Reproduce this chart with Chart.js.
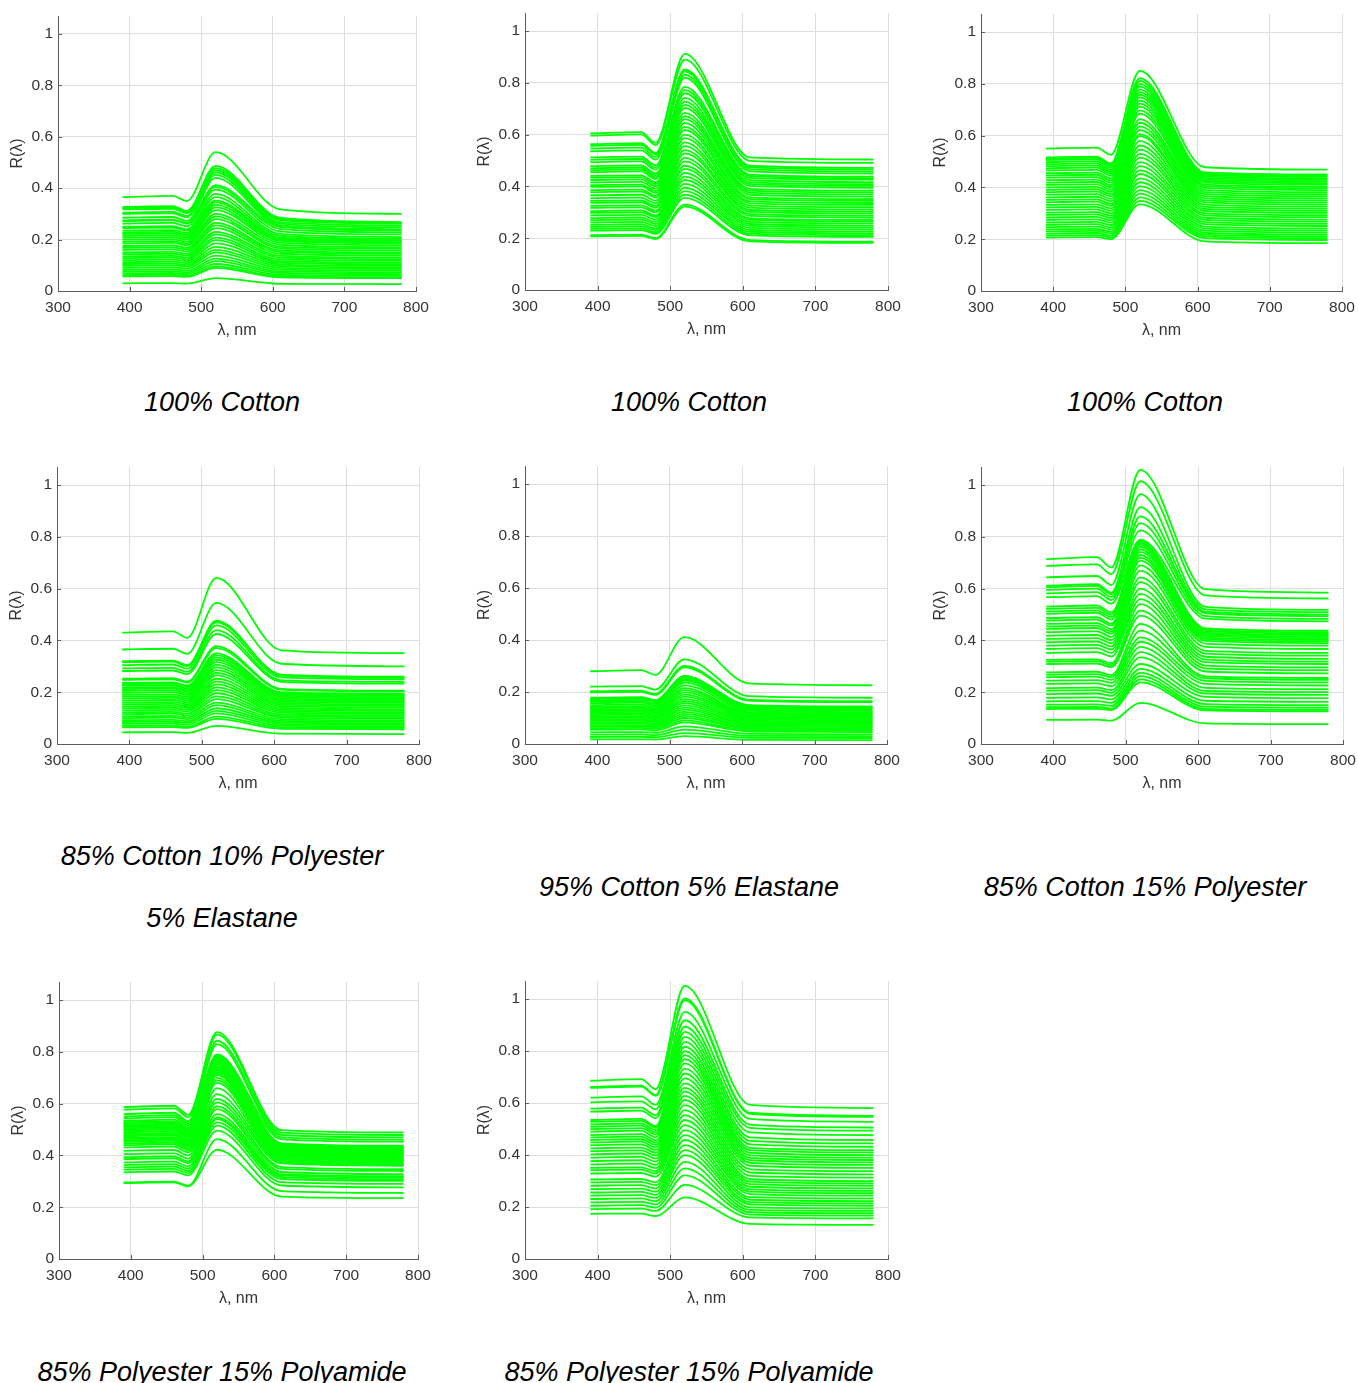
<!DOCTYPE html>
<html>
<head>
<meta charset="utf-8">
<title>Reflectance spectra of fabric samples</title>
<script src="https://cdn.jsdelivr.net/npm/chart.js@4.4.1/dist/chart.umd.min.js"></script>
<style>
  html, body { margin: 0; padding: 0; background: #fff; }
  #page { position: relative; width: 1358px; height: 1383px; overflow: hidden; }
  .panel { position: absolute; }
  .caption {
    position: absolute;
    font: italic 27px "Liberation Sans", Arial, sans-serif;
    line-height: 1;
    color: #000;
    white-space: nowrap;
    transform: translate(-50%, -50%);
  }
</style>
</head>
<body>
<div id="page"></div>
<script>
const wavelengths = [390, 460, 480, 520, 610, 780];
const xTicks = [300, 400, 500, 600, 700, 800];
const yTicks = [0, 0.2, 0.4, 0.6, 0.8, 1];

// each row: R at 390, 460, 480, 520, 610, 780 nm
const cotton1 = [
  [0.365, 0.370, 0.350, 0.540, 0.318, 0.300],
  [0.327, 0.330, 0.312, 0.487, 0.285, 0.268],
  [0.322, 0.325, 0.307, 0.478, 0.280, 0.265],
  [0.318, 0.320, 0.303, 0.470, 0.276, 0.262],
  [0.305, 0.308, 0.292, 0.462, 0.268, 0.255],
  [0.300, 0.302, 0.287, 0.452, 0.262, 0.248],
  [0.285, 0.288, 0.273, 0.440, 0.255, 0.240],
  [0.275, 0.278, 0.265, 0.412, 0.250, 0.235],
  [0.272, 0.275, 0.262, 0.405, 0.242, 0.228],
  [0.262, 0.265, 0.252, 0.395, 0.232, 0.220],
  [0.250, 0.252, 0.240, 0.378, 0.222, 0.210],
  [0.245, 0.247, 0.235, 0.365, 0.215, 0.203],
  [0.235, 0.237, 0.226, 0.352, 0.208, 0.198],
  [0.228, 0.230, 0.220, 0.345, 0.205, 0.195],
  [0.222, 0.224, 0.213, 0.335, 0.200, 0.190],
  [0.215, 0.217, 0.207, 0.325, 0.195, 0.185],
  [0.208, 0.210, 0.200, 0.315, 0.188, 0.178],
  [0.200, 0.202, 0.192, 0.300, 0.180, 0.170],
  [0.192, 0.194, 0.185, 0.290, 0.172, 0.165],
  [0.185, 0.187, 0.178, 0.280, 0.166, 0.158],
  [0.175, 0.177, 0.168, 0.265, 0.158, 0.150],
  [0.168, 0.170, 0.162, 0.255, 0.152, 0.145],
  [0.160, 0.162, 0.154, 0.245, 0.145, 0.138],
  [0.150, 0.152, 0.145, 0.230, 0.137, 0.130],
  [0.143, 0.145, 0.138, 0.220, 0.130, 0.124],
  [0.135, 0.137, 0.130, 0.208, 0.123, 0.117],
  [0.128, 0.130, 0.123, 0.198, 0.116, 0.110],
  [0.120, 0.122, 0.116, 0.185, 0.110, 0.104],
  [0.112, 0.114, 0.108, 0.172, 0.103, 0.098],
  [0.105, 0.107, 0.101, 0.160, 0.097, 0.092],
  [0.098, 0.100, 0.095, 0.150, 0.090, 0.086],
  [0.090, 0.092, 0.087, 0.138, 0.083, 0.080],
  [0.082, 0.084, 0.079, 0.126, 0.076, 0.073],
  [0.075, 0.077, 0.072, 0.116, 0.070, 0.066],
  [0.068, 0.070, 0.066, 0.105, 0.063, 0.060],
  [0.062, 0.063, 0.060, 0.096, 0.057, 0.054],
  [0.057, 0.058, 0.055, 0.090, 0.053, 0.050],
  [0.030, 0.031, 0.029, 0.050, 0.028, 0.027],
];

const cotton2 = [
  [0.605, 0.610, 0.568, 0.912, 0.512, 0.504],
  [0.596, 0.601, 0.560, 0.890, 0.499, 0.491],
  [0.563, 0.567, 0.529, 0.852, 0.480, 0.472],
  [0.557, 0.561, 0.523, 0.845, 0.474, 0.466],
  [0.547, 0.550, 0.514, 0.832, 0.466, 0.458],
  [0.536, 0.539, 0.504, 0.820, 0.458, 0.450],
  [0.512, 0.515, 0.482, 0.785, 0.446, 0.438],
  [0.503, 0.506, 0.474, 0.772, 0.440, 0.432],
  [0.494, 0.497, 0.465, 0.760, 0.433, 0.426],
  [0.478, 0.481, 0.450, 0.742, 0.424, 0.417],
  [0.470, 0.473, 0.443, 0.728, 0.416, 0.409],
  [0.463, 0.466, 0.436, 0.715, 0.409, 0.402],
  [0.455, 0.458, 0.429, 0.703, 0.402, 0.395],
  [0.441, 0.443, 0.416, 0.684, 0.391, 0.384],
  [0.434, 0.436, 0.409, 0.672, 0.384, 0.377],
  [0.425, 0.427, 0.401, 0.660, 0.376, 0.369],
  [0.416, 0.418, 0.392, 0.645, 0.368, 0.361],
  [0.405, 0.407, 0.382, 0.630, 0.358, 0.351],
  [0.398, 0.400, 0.375, 0.618, 0.351, 0.344],
  [0.386, 0.388, 0.364, 0.600, 0.342, 0.336],
  [0.378, 0.380, 0.357, 0.587, 0.335, 0.329],
  [0.366, 0.368, 0.345, 0.570, 0.326, 0.320],
  [0.355, 0.357, 0.335, 0.556, 0.318, 0.311],
  [0.344, 0.346, 0.325, 0.540, 0.309, 0.303],
  [0.337, 0.339, 0.318, 0.528, 0.302, 0.296],
  [0.325, 0.327, 0.307, 0.510, 0.293, 0.287],
  [0.317, 0.319, 0.300, 0.497, 0.286, 0.280],
  [0.305, 0.307, 0.288, 0.480, 0.277, 0.271],
  [0.298, 0.300, 0.282, 0.468, 0.271, 0.265],
  [0.288, 0.290, 0.272, 0.452, 0.263, 0.257],
  [0.278, 0.280, 0.263, 0.438, 0.255, 0.249],
  [0.270, 0.272, 0.255, 0.425, 0.248, 0.242],
  [0.261, 0.263, 0.247, 0.410, 0.240, 0.234],
  [0.252, 0.254, 0.238, 0.395, 0.232, 0.226],
  [0.244, 0.246, 0.231, 0.382, 0.225, 0.219],
  [0.236, 0.238, 0.223, 0.368, 0.218, 0.212],
  [0.229, 0.231, 0.217, 0.356, 0.211, 0.205],
  [0.212, 0.214, 0.201, 0.330, 0.193, 0.187],
  [0.207, 0.209, 0.197, 0.322, 0.188, 0.182],
];

const cotton3 = [
  [0.550, 0.554, 0.526, 0.850, 0.478, 0.469],
  [0.516, 0.519, 0.493, 0.822, 0.458, 0.450],
  [0.512, 0.515, 0.489, 0.812, 0.453, 0.445],
  [0.506, 0.509, 0.483, 0.800, 0.449, 0.441],
  [0.498, 0.501, 0.476, 0.790, 0.443, 0.435],
  [0.490, 0.493, 0.468, 0.778, 0.437, 0.429],
  [0.482, 0.485, 0.461, 0.768, 0.431, 0.423],
  [0.474, 0.477, 0.453, 0.758, 0.425, 0.417],
  [0.466, 0.468, 0.445, 0.748, 0.419, 0.411],
  [0.455, 0.457, 0.435, 0.735, 0.411, 0.403],
  [0.447, 0.449, 0.427, 0.724, 0.405, 0.397],
  [0.438, 0.440, 0.419, 0.712, 0.398, 0.390],
  [0.428, 0.430, 0.409, 0.698, 0.390, 0.382],
  [0.419, 0.421, 0.401, 0.685, 0.382, 0.374],
  [0.410, 0.412, 0.392, 0.664, 0.374, 0.366],
  [0.400, 0.402, 0.383, 0.650, 0.366, 0.358],
  [0.391, 0.393, 0.374, 0.636, 0.358, 0.350],
  [0.382, 0.384, 0.366, 0.622, 0.350, 0.342],
  [0.372, 0.374, 0.356, 0.606, 0.342, 0.334],
  [0.362, 0.364, 0.347, 0.598, 0.334, 0.326],
  [0.352, 0.354, 0.337, 0.580, 0.325, 0.318],
  [0.343, 0.345, 0.329, 0.562, 0.317, 0.310],
  [0.333, 0.335, 0.319, 0.546, 0.309, 0.302],
  [0.323, 0.325, 0.310, 0.530, 0.300, 0.293],
  [0.313, 0.315, 0.300, 0.515, 0.292, 0.285],
  [0.303, 0.305, 0.291, 0.498, 0.283, 0.276],
  [0.294, 0.296, 0.282, 0.482, 0.275, 0.268],
  [0.284, 0.286, 0.273, 0.466, 0.266, 0.259],
  [0.275, 0.277, 0.264, 0.452, 0.258, 0.251],
  [0.265, 0.267, 0.255, 0.435, 0.249, 0.242],
  [0.256, 0.258, 0.246, 0.420, 0.241, 0.234],
  [0.247, 0.249, 0.238, 0.405, 0.233, 0.226],
  [0.238, 0.240, 0.229, 0.390, 0.225, 0.218],
  [0.230, 0.232, 0.222, 0.376, 0.218, 0.211],
  [0.222, 0.224, 0.214, 0.362, 0.211, 0.204],
  [0.214, 0.216, 0.207, 0.348, 0.204, 0.197],
  [0.206, 0.208, 0.200, 0.335, 0.192, 0.185],
];

const blendCPE = [
  [0.430, 0.435, 0.410, 0.642, 0.362, 0.351],
  [0.365, 0.368, 0.348, 0.545, 0.310, 0.300],
  [0.320, 0.322, 0.305, 0.476, 0.268, 0.260],
  [0.316, 0.318, 0.301, 0.470, 0.264, 0.256],
  [0.305, 0.307, 0.291, 0.458, 0.257, 0.250],
  [0.292, 0.294, 0.279, 0.440, 0.246, 0.240],
  [0.282, 0.284, 0.270, 0.425, 0.240, 0.233],
  [0.252, 0.254, 0.241, 0.378, 0.213, 0.206],
  [0.248, 0.250, 0.237, 0.370, 0.210, 0.203],
  [0.236, 0.238, 0.226, 0.350, 0.200, 0.194],
  [0.231, 0.233, 0.221, 0.342, 0.196, 0.190],
  [0.225, 0.227, 0.215, 0.334, 0.192, 0.186],
  [0.218, 0.220, 0.208, 0.325, 0.187, 0.181],
  [0.212, 0.214, 0.203, 0.316, 0.182, 0.176],
  [0.205, 0.207, 0.196, 0.306, 0.176, 0.170],
  [0.198, 0.200, 0.189, 0.296, 0.170, 0.165],
  [0.190, 0.192, 0.182, 0.285, 0.164, 0.159],
  [0.183, 0.185, 0.175, 0.275, 0.158, 0.153],
  [0.176, 0.178, 0.168, 0.265, 0.152, 0.147],
  [0.168, 0.170, 0.161, 0.252, 0.146, 0.141],
  [0.160, 0.162, 0.153, 0.241, 0.139, 0.134],
  [0.153, 0.155, 0.146, 0.230, 0.133, 0.128],
  [0.145, 0.147, 0.139, 0.219, 0.127, 0.122],
  [0.138, 0.140, 0.132, 0.208, 0.121, 0.116],
  [0.130, 0.132, 0.125, 0.196, 0.114, 0.110],
  [0.122, 0.124, 0.117, 0.184, 0.108, 0.104],
  [0.115, 0.117, 0.110, 0.173, 0.102, 0.098],
  [0.107, 0.109, 0.103, 0.160, 0.095, 0.091],
  [0.100, 0.102, 0.096, 0.150, 0.089, 0.086],
  [0.092, 0.093, 0.088, 0.138, 0.083, 0.080],
  [0.085, 0.086, 0.082, 0.128, 0.077, 0.074],
  [0.078, 0.079, 0.075, 0.118, 0.071, 0.068],
  [0.070, 0.071, 0.067, 0.106, 0.064, 0.062],
  [0.064, 0.065, 0.062, 0.097, 0.059, 0.057],
  [0.045, 0.046, 0.043, 0.070, 0.040, 0.038],
];

const blendCE = [
  [0.280, 0.284, 0.266, 0.411, 0.233, 0.226],
  [0.221, 0.223, 0.209, 0.326, 0.184, 0.178],
  [0.203, 0.205, 0.193, 0.301, 0.170, 0.165],
  [0.199, 0.201, 0.189, 0.295, 0.166, 0.161],
  [0.178, 0.180, 0.169, 0.262, 0.150, 0.145],
  [0.173, 0.175, 0.164, 0.256, 0.146, 0.141],
  [0.168, 0.170, 0.160, 0.250, 0.142, 0.137],
  [0.163, 0.165, 0.155, 0.244, 0.138, 0.133],
  [0.157, 0.159, 0.149, 0.236, 0.133, 0.128],
  [0.150, 0.152, 0.143, 0.226, 0.128, 0.123],
  [0.143, 0.145, 0.136, 0.215, 0.122, 0.118],
  [0.138, 0.140, 0.131, 0.207, 0.118, 0.114],
  [0.133, 0.135, 0.126, 0.199, 0.114, 0.110],
  [0.127, 0.129, 0.121, 0.190, 0.109, 0.105],
  [0.122, 0.124, 0.116, 0.182, 0.105, 0.101],
  [0.116, 0.118, 0.110, 0.173, 0.100, 0.096],
  [0.111, 0.113, 0.105, 0.165, 0.095, 0.092],
  [0.105, 0.107, 0.100, 0.157, 0.090, 0.087],
  [0.100, 0.101, 0.095, 0.149, 0.086, 0.083],
  [0.094, 0.095, 0.089, 0.140, 0.081, 0.078],
  [0.089, 0.090, 0.085, 0.132, 0.077, 0.074],
  [0.083, 0.084, 0.079, 0.124, 0.072, 0.069],
  [0.078, 0.079, 0.074, 0.116, 0.067, 0.065],
  [0.072, 0.073, 0.068, 0.108, 0.062, 0.060],
  [0.067, 0.068, 0.064, 0.100, 0.058, 0.056],
  [0.061, 0.062, 0.058, 0.091, 0.053, 0.051],
  [0.055, 0.056, 0.052, 0.083, 0.048, 0.046],
  [0.045, 0.046, 0.043, 0.068, 0.039, 0.037],
  [0.036, 0.037, 0.034, 0.055, 0.031, 0.030],
  [0.027, 0.028, 0.026, 0.042, 0.024, 0.023],
  [0.018, 0.018, 0.017, 0.030, 0.016, 0.015],
];

const blendCP = [
  [0.714, 0.722, 0.682, 1.059, 0.598, 0.585],
  [0.688, 0.694, 0.656, 1.015, 0.574, 0.562],
  [0.644, 0.649, 0.614, 0.965, 0.530, 0.518],
  [0.612, 0.617, 0.584, 0.915, 0.520, 0.509],
  [0.606, 0.611, 0.578, 0.879, 0.511, 0.500],
  [0.595, 0.600, 0.568, 0.853, 0.505, 0.494],
  [0.582, 0.587, 0.556, 0.825, 0.494, 0.483],
  [0.567, 0.571, 0.542, 0.789, 0.484, 0.474],
  [0.531, 0.535, 0.508, 0.782, 0.447, 0.438],
  [0.522, 0.526, 0.499, 0.776, 0.441, 0.432],
  [0.512, 0.516, 0.490, 0.770, 0.436, 0.427],
  [0.503, 0.507, 0.481, 0.762, 0.430, 0.421],
  [0.486, 0.490, 0.465, 0.752, 0.424, 0.415],
  [0.477, 0.481, 0.457, 0.742, 0.418, 0.409],
  [0.464, 0.467, 0.444, 0.730, 0.411, 0.402],
  [0.454, 0.457, 0.435, 0.720, 0.405, 0.396],
  [0.445, 0.448, 0.426, 0.708, 0.398, 0.390],
  [0.432, 0.435, 0.414, 0.690, 0.388, 0.380],
  [0.418, 0.421, 0.401, 0.670, 0.375, 0.367],
  [0.406, 0.409, 0.389, 0.644, 0.360, 0.352],
  [0.393, 0.396, 0.377, 0.625, 0.349, 0.341],
  [0.380, 0.383, 0.365, 0.600, 0.337, 0.329],
  [0.367, 0.370, 0.352, 0.580, 0.326, 0.318],
  [0.352, 0.355, 0.338, 0.560, 0.316, 0.309],
  [0.325, 0.327, 0.312, 0.540, 0.303, 0.296],
  [0.318, 0.320, 0.305, 0.515, 0.292, 0.285],
  [0.309, 0.311, 0.297, 0.496, 0.280, 0.273],
  [0.277, 0.279, 0.266, 0.464, 0.261, 0.255],
  [0.268, 0.270, 0.258, 0.438, 0.254, 0.248],
  [0.258, 0.260, 0.248, 0.412, 0.244, 0.238],
  [0.245, 0.247, 0.236, 0.395, 0.232, 0.226],
  [0.232, 0.234, 0.223, 0.375, 0.217, 0.212],
  [0.216, 0.218, 0.208, 0.355, 0.205, 0.200],
  [0.206, 0.208, 0.198, 0.335, 0.195, 0.190],
  [0.193, 0.195, 0.186, 0.309, 0.182, 0.177],
  [0.178, 0.180, 0.172, 0.290, 0.167, 0.163],
  [0.165, 0.166, 0.159, 0.275, 0.154, 0.150],
  [0.152, 0.153, 0.147, 0.262, 0.144, 0.140],
  [0.142, 0.143, 0.137, 0.250, 0.136, 0.132],
  [0.135, 0.136, 0.131, 0.238, 0.130, 0.126],
  [0.093, 0.094, 0.090, 0.159, 0.080, 0.077],
];

const polyA = [
  [0.587, 0.592, 0.557, 0.876, 0.498, 0.489],
  [0.577, 0.582, 0.548, 0.867, 0.488, 0.479],
  [0.560, 0.565, 0.532, 0.843, 0.479, 0.470],
  [0.551, 0.556, 0.524, 0.830, 0.470, 0.461],
  [0.543, 0.548, 0.516, 0.790, 0.462, 0.453],
  [0.534, 0.538, 0.508, 0.785, 0.447, 0.438],
  [0.528, 0.532, 0.502, 0.780, 0.443, 0.434],
  [0.525, 0.529, 0.499, 0.775, 0.439, 0.430],
  [0.519, 0.523, 0.494, 0.770, 0.436, 0.427],
  [0.515, 0.519, 0.490, 0.764, 0.432, 0.423],
  [0.510, 0.514, 0.485, 0.758, 0.429, 0.420],
  [0.505, 0.509, 0.481, 0.752, 0.425, 0.416],
  [0.500, 0.504, 0.476, 0.746, 0.421, 0.412],
  [0.496, 0.500, 0.472, 0.740, 0.418, 0.409],
  [0.490, 0.494, 0.467, 0.734, 0.414, 0.405],
  [0.483, 0.487, 0.460, 0.728, 0.410, 0.401],
  [0.478, 0.482, 0.456, 0.722, 0.406, 0.397],
  [0.474, 0.478, 0.452, 0.716, 0.402, 0.393],
  [0.468, 0.471, 0.446, 0.710, 0.398, 0.389],
  [0.463, 0.466, 0.442, 0.700, 0.394, 0.385],
  [0.458, 0.461, 0.437, 0.690, 0.389, 0.380],
  [0.453, 0.456, 0.432, 0.680, 0.384, 0.375],
  [0.446, 0.449, 0.426, 0.660, 0.379, 0.370],
  [0.440, 0.443, 0.420, 0.637, 0.374, 0.365],
  [0.431, 0.434, 0.412, 0.618, 0.369, 0.360],
  [0.418, 0.421, 0.400, 0.605, 0.355, 0.347],
  [0.405, 0.408, 0.388, 0.590, 0.348, 0.340],
  [0.393, 0.396, 0.377, 0.579, 0.336, 0.328],
  [0.386, 0.389, 0.370, 0.560, 0.328, 0.320],
  [0.373, 0.376, 0.358, 0.547, 0.323, 0.315],
  [0.363, 0.366, 0.349, 0.540, 0.316, 0.308],
  [0.354, 0.357, 0.340, 0.528, 0.309, 0.302],
  [0.345, 0.348, 0.332, 0.515, 0.297, 0.290],
  [0.335, 0.338, 0.323, 0.496, 0.284, 0.277],
  [0.296, 0.299, 0.283, 0.463, 0.262, 0.255],
  [0.293, 0.296, 0.281, 0.422, 0.241, 0.235],
];

const polyB = [
  [0.686, 0.692, 0.654, 1.051, 0.593, 0.581],
  [0.662, 0.667, 0.631, 1.003, 0.563, 0.551],
  [0.659, 0.664, 0.628, 0.996, 0.559, 0.547],
  [0.621, 0.626, 0.593, 0.951, 0.539, 0.528],
  [0.603, 0.607, 0.576, 0.919, 0.517, 0.506],
  [0.579, 0.583, 0.553, 0.894, 0.505, 0.494],
  [0.567, 0.571, 0.542, 0.874, 0.487, 0.477],
  [0.535, 0.539, 0.512, 0.855, 0.468, 0.458],
  [0.528, 0.532, 0.505, 0.836, 0.455, 0.445],
  [0.518, 0.522, 0.496, 0.817, 0.441, 0.432],
  [0.509, 0.513, 0.487, 0.800, 0.428, 0.419],
  [0.500, 0.504, 0.479, 0.785, 0.419, 0.410],
  [0.490, 0.494, 0.469, 0.769, 0.409, 0.400],
  [0.477, 0.481, 0.457, 0.753, 0.399, 0.390],
  [0.468, 0.471, 0.448, 0.733, 0.389, 0.381],
  [0.458, 0.461, 0.439, 0.714, 0.380, 0.372],
  [0.449, 0.452, 0.430, 0.695, 0.370, 0.362],
  [0.438, 0.441, 0.420, 0.676, 0.359, 0.351],
  [0.426, 0.429, 0.409, 0.659, 0.345, 0.338],
  [0.415, 0.418, 0.398, 0.644, 0.333, 0.326],
  [0.403, 0.406, 0.387, 0.628, 0.320, 0.313],
  [0.390, 0.393, 0.375, 0.612, 0.307, 0.300],
  [0.377, 0.380, 0.362, 0.592, 0.298, 0.291],
  [0.364, 0.367, 0.350, 0.573, 0.288, 0.282],
  [0.351, 0.353, 0.338, 0.554, 0.278, 0.272],
  [0.342, 0.344, 0.329, 0.535, 0.268, 0.262],
  [0.329, 0.331, 0.317, 0.515, 0.259, 0.253],
  [0.306, 0.308, 0.295, 0.496, 0.250, 0.244],
  [0.295, 0.297, 0.284, 0.477, 0.238, 0.233],
  [0.282, 0.284, 0.272, 0.458, 0.228, 0.223],
  [0.269, 0.271, 0.259, 0.438, 0.219, 0.214],
  [0.256, 0.258, 0.247, 0.419, 0.210, 0.205],
  [0.244, 0.246, 0.235, 0.400, 0.199, 0.195],
  [0.231, 0.233, 0.223, 0.374, 0.189, 0.185],
  [0.218, 0.220, 0.210, 0.349, 0.180, 0.176],
  [0.205, 0.207, 0.198, 0.322, 0.171, 0.167],
  [0.192, 0.194, 0.185, 0.285, 0.160, 0.156],
  [0.174, 0.175, 0.165, 0.237, 0.135, 0.131],
];

// plot-area boxes on the page: left, top, width, height (px)
const panels = [
  { curves: cotton1, box: [58, 16, 358, 275] },
  { curves: cotton2, box: [525, 13, 363, 277] },
  { curves: cotton3, box: [981, 14, 361, 277] },
  { curves: blendCPE, box: [57, 467, 362, 277] },
  { curves: blendCE, box: [525, 466, 362, 278] },
  { curves: blendCP, box: [981, 467, 362, 277] },
  { curves: polyA, box: [59, 982, 359, 277] },
  { curves: polyB, box: [525, 981, 363, 278] },
];

const captions = [
  { text: "100% Cotton", x: 222, y: 402 },
  { text: "100% Cotton", x: 689, y: 402 },
  { text: "100% Cotton", x: 1145, y: 402 },
  { text: "85% Cotton 10% Polyester", x: 222, y: 856 },
  { text: "5% Elastane", x: 222, y: 918 },
  { text: "95% Cotton 5% Elastane", x: 689, y: 887 },
  { text: "85% Cotton 15% Polyester", x: 1145, y: 887 },
  { text: "85% Polyester 15% Polyamide", x: 222, y: 1372 },
  { text: "85% Polyester 15% Polyamide", x: 689, y: 1372 },
];

const AXIS_W = 58;
const AXIS_H = 56;
const PAD_TOP = 16;
const PAD_RIGHT = 22;
const AXIS_COLOR = "#5c5c5c";
const TEXT_COLOR = "#333333";
const GRID_COLOR = "#dedede";
const LINE_COLOR = "#00ff00";
const tickFont = { family: "'Liberation Sans', Arial, sans-serif", size: 15.5 };
const titleFont = { family: "'Liberation Sans', Arial, sans-serif", size: 16 };

const page = document.getElementById("page");

// MATLAB style ticks pointing into the axes
const innerTicks = {
  id: "innerTicks",
  afterDraw(chart) {
    const { ctx, chartArea, scales } = chart;
    ctx.save();
    ctx.strokeStyle = AXIS_COLOR;
    ctx.lineWidth = 1;
    ctx.beginPath();
    scales.x.ticks.forEach((t) => {
      const px = Math.round(scales.x.getPixelForValue(t.value)) + 0.5;
      ctx.moveTo(px, chartArea.bottom);
      ctx.lineTo(px, chartArea.bottom - 4);
    });
    scales.y.ticks.forEach((t) => {
      const py = Math.round(scales.y.getPixelForValue(t.value)) + 0.5;
      ctx.moveTo(chartArea.left, py);
      ctx.lineTo(chartArea.left + 4, py);
    });
    ctx.stroke();
    ctx.restore();
  },
};

function makePanel({ curves, box }) {
  const [left, top, w, h] = box;
  const wrap = document.createElement("div");
  wrap.className = "panel";
  wrap.style.left = left - AXIS_W + "px";
  wrap.style.top = top - PAD_TOP + "px";
  const canvas = document.createElement("canvas");
  canvas.width = w + AXIS_W + PAD_RIGHT;
  canvas.height = h + PAD_TOP + AXIS_H;
  wrap.appendChild(canvas);
  page.appendChild(wrap);

  const datasets = curves.map((c) => ({
    data: wavelengths.map((x, i) => ({ x, y: c[i] })),
    borderColor: LINE_COLOR,
    borderWidth: 1.8,
    pointRadius: 0,
    fill: false,
    cubicInterpolationMode: "monotone",
  }));

  new Chart(canvas, {
    type: "line",
    data: { datasets },
    options: {
      responsive: false,
      animation: false,
      events: [],
      layout: { padding: { top: PAD_TOP, right: PAD_RIGHT, left: 0, bottom: 0 } },
      plugins: { legend: { display: false }, tooltip: { enabled: false } },
      scales: {
        x: {
          type: "linear",
          min: 300,
          max: 800,
          afterBuildTicks: (s) => { s.ticks = xTicks.map((v) => ({ value: v })); },
          afterFit: (s) => { s.height = AXIS_H; },
          ticks: { font: tickFont, color: TEXT_COLOR, padding: 7, maxRotation: 0, autoSkip: false, callback: (v) => String(v) },
          grid: { color: GRID_COLOR, drawTicks: false },
          border: { color: AXIS_COLOR, width: 1 },
          title: { display: true, text: "λ, nm", font: titleFont, color: TEXT_COLOR, padding: { top: 0, bottom: 6.5 } },
        },
        y: {
          type: "linear",
          min: 0,
          max: 1.07,
          afterBuildTicks: (s) => { s.ticks = yTicks.map((v) => ({ value: v })); },
          afterFit: (s) => { s.width = AXIS_W; },
          ticks: { font: tickFont, color: TEXT_COLOR, padding: 5, autoSkip: false, callback: (v) => String(v) },
          grid: { color: GRID_COLOR, drawTicks: false },
          border: { color: AXIS_COLOR, width: 1 },
          title: { display: true, text: "R(λ)", font: titleFont, color: TEXT_COLOR, padding: { top: 8, bottom: 0 } },
        },
      },
    },
    plugins: [innerTicks],
  });
}

panels.forEach(makePanel);

captions.forEach(({ text, x, y }) => {
  const el = document.createElement("div");
  el.className = "caption";
  el.textContent = text;
  el.style.left = x + "px";
  el.style.top = y + "px";
  page.appendChild(el);
});
</script>
</body>
</html>
